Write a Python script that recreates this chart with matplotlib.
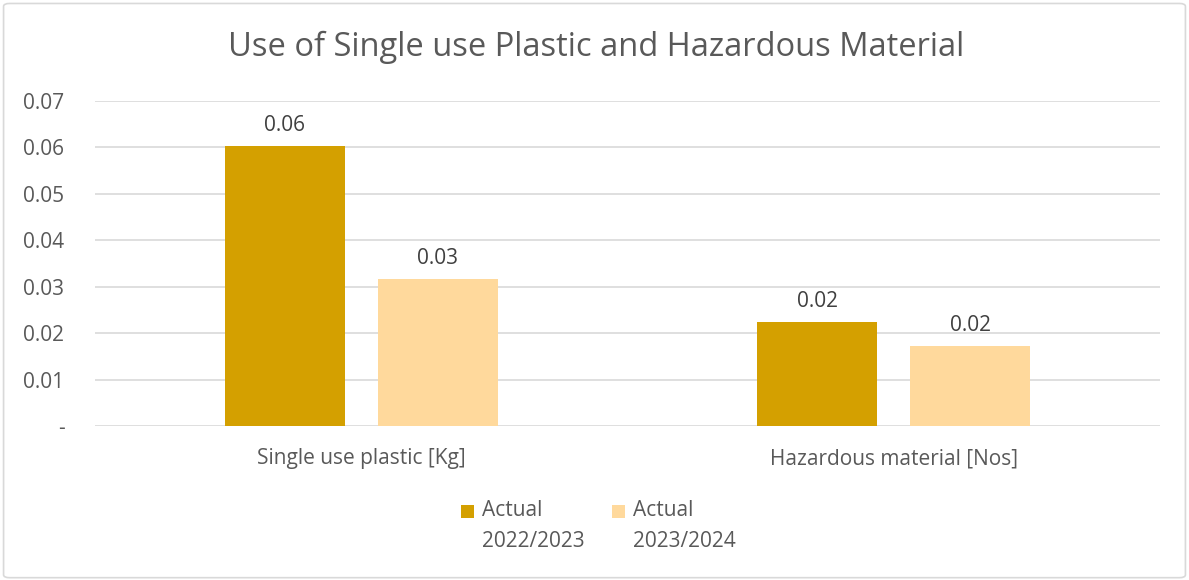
import matplotlib
matplotlib.use("Agg")
import matplotlib.pyplot as plt
from matplotlib.patches import Rectangle, FancyBboxPatch
import numpy as np

categories = ["Single use plastic [Kg]", "Hazardous material [Nos]"]
series_names = ["Actual\n2022/2023", "Actual\n2023/2024"]
actual_2022_2023 = [0.0603, 0.0224]
actual_2023_2024 = [0.0317, 0.0172]
data_labels_1 = ["0.06", "0.02"]
data_labels_2 = ["0.03", "0.02"]
yticks = [0, 0.01, 0.02, 0.03, 0.04, 0.05, 0.06, 0.07]
ytick_labels = ["-", "0.01", "0.02", "0.03", "0.04", "0.05", "0.06", "0.07"]
title = "Use of Single use Plastic and Hazardous Material"

colors = ["#D4A000", "#FFD99C"]
text_color = "#595959"
plt.rcParams['font.family'] = ['Open Sans', 'DejaVu Sans']
fs = 15

fig = plt.figure(figsize=(11.89, 5.80), dpi=100)
fig.patches.append(FancyBboxPatch((0.003, 0.004), 0.994, 0.99, boxstyle="round,pad=0,rounding_size=0.005",
                                  transform=fig.transFigure, fill=False, edgecolor="#D9D9D9", linewidth=1.2))
ax = fig.add_axes([95/1189, 1-426/580, (1160-95)/1189, (426-101)/580])

x = np.arange(len(categories))
w = 0.225
gap = 0.062
off = (w + gap) / 2
b1 = ax.bar(x - off, actual_2022_2023, w, color=colors[0], zorder=3)
b2 = ax.bar(x + off, actual_2023_2024, w, color=colors[1], zorder=3)
for bars, labs in ((b1, data_labels_1), (b2, data_labels_2)):
    for r, l in zip(bars, labs):
        ax.annotate(l, (r.get_x() + r.get_width()/2, r.get_height()), xytext=(0, 7),
                    textcoords="offset points", ha="center", va="bottom", fontsize=fs, color="#404040")

ax.set_xlim(-0.5, len(categories) - 0.5)
ax.set_ylim(0, 0.07)
ax.set_yticks(yticks)
ax.set_yticklabels(ytick_labels)
ax.set_xticks(x)
ax.set_xticklabels(categories)
ax.tick_params(axis="both", length=0, labelsize=fs, colors=text_color)
ax.tick_params(axis="y", pad=22)
ax.tick_params(axis="x", pad=16)
ax.grid(axis="y", color="#D9D9D9", linewidth=1.2, zorder=0)
for s in ax.spines.values():
    s.set_visible(False)

fig.text(596/1189, 1-47/580, title, ha="center", va="center", fontsize=23.5, color=text_color)

# legend
for i, (name, c) in enumerate(zip(series_names, colors)):
    sx = [461, 612][i]
    fig.patches.append(Rectangle((sx/1189, 1-518/580), 13/1189, 13/580, transform=fig.transFigure,
                                 facecolor=c, edgecolor="none"))
    fig.text((sx+21)/1189, 1-500/580, name, ha="left", va="top", fontsize=fs, color=text_color,
             linespacing=1.65)

fig.savefig("out.png", dpi=100)
